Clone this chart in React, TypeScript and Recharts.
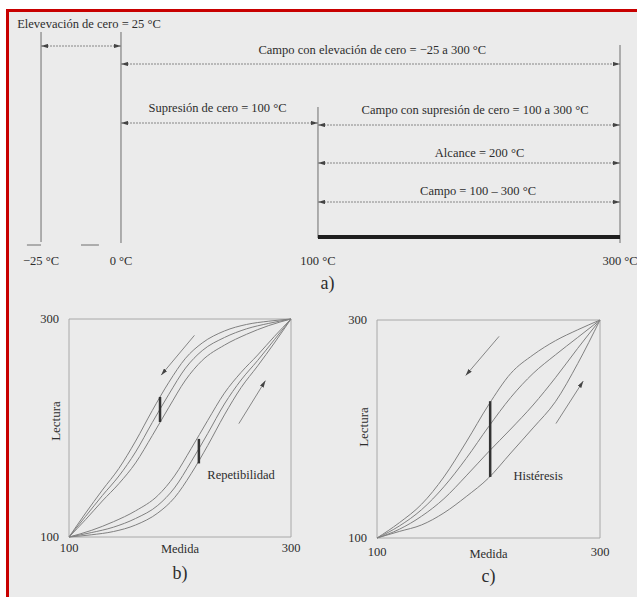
import React from 'react';
import { ComposedChart, Line, XAxis, YAxis, Scatter, ReferenceArea, Label } from 'recharts';

const SERIF = '"Liberation Serif", "Times New Roman", serif';
const INK = '#2d2d2d';
const RULE = '#6e6e6e';
const DOTTED = '#858585';
const CURVE = '#808080';
const FRAME = '#a8a8a8';

// ---------- a) escalas de temperatura ----------
const tempTicks = [-25, 0, 100, 300];
const spanFrom = [-25, 0, 0, 100, 100, 100];
const spanTo = [0, 300, 100, 300, 300, 300];
const spanText = [
  'Elevevación de cero = 25 °C',
  'Campo con elevación de cero = −25 a 300 °C',
  'Supresión de cero = 100 °C',
  'Campo con supresión de cero = 100 a 300 °C',
  'Alcance = 200 °C',
  'Campo = 100 – 300 °C',
];
const campoBar = [100, 300];
const dashFrom = [-29.4, -12.5];
const dashTo = [-25, -6.9];

// layout of the drawing: rows counted downwards, text anchors in °C
const limitTop = [22, 22, 97, 35];
const limitBottom = [232, 233, 228, 233];
const spanRow = [36, 54, 113, 115, 153, 192];
const textRow = [14, 40, 98, 100, 143, 181];
const textAt = [-10, 136, 49, 204, 207, 206];
const barRow = 227;
const dashRow = 235;

// the scale in a) is not drawn to proportion, each stretch has its own width
const tempStops = [-35, -25, 0, 100, 300];
const tempStopFrac = [0, 0.0524, 0.1833, 0.5057, 1];

function schematicScale(stops: number[], fracs: number[], d?: number[], r?: number[]) {
  let dom = d ? d.slice() : [stops[0], stops[stops.length - 1]];
  let rng = r ? r.slice() : [0, 1];
  const scale: any = (v: number) => {
    let i = 1;
    while (i < stops.length - 1 && v > stops[i]) i++;
    const t = (v - stops[i - 1]) / (stops[i] - stops[i - 1]);
    const f = fracs[i - 1] + t * (fracs[i] - fracs[i - 1]);
    return rng[0] + f * (rng[1] - rng[0]);
  };
  scale.domain = (x?: number[]) => {
    if (!x) return dom.slice();
    dom = x.slice();
    return scale;
  };
  scale.range = (x?: number[]) => {
    if (!x) return rng.slice();
    rng = x.slice();
    return scale;
  };
  scale.copy = () => schematicScale(stops, fracs, dom, rng);
  scale.ticks = () => stops.slice(1);
  scale.tickFormat = () => (v: number) => String(v);
  scale.nice = () => scale;
  scale.clamp = () => scale;
  return scale;
}
const tempScale = schematicScale(tempStops, tempStopFrac);

// ---------- b) repetibilidad ----------
const medidaBajada = [100, 115, 130, 145, 160, 175, 190, 205, 220, 240, 260, 280, 300];
const bajada1 = [100, 122, 143, 163, 188, 216, 242, 264, 278, 289, 295, 298, 300];
const bajada2 = [100, 119, 138, 156, 178, 205, 231, 255, 271, 283, 291, 296, 300];
const bajada3 = [100, 116, 133, 149, 168, 193, 219, 244, 262, 276, 286, 294, 300];
const medidaSubida = [100, 120, 140, 160, 180, 195, 210, 225, 240, 255, 270, 285, 300];
const subida1 = [100, 106, 114, 124, 138, 156, 181, 207, 232, 251, 267, 284, 300];
const subida2 = [100, 104, 109, 117, 129, 145, 169, 195, 222, 244, 262, 281, 300];
const subida3 = [100, 102, 105, 111, 122, 136, 158, 184, 212, 237, 257, 278, 300];
const repMarks = [
  { x: 182, lo: 205.5, hi: 228.5 },
  { x: 217, lo: 167.5, hi: 190 },
];
const repArrows = [
  { x1: 213, y1: 285, x2: 183, y2: 248.5 },
  { x1: 253, y1: 204, x2: 277, y2: 243.5 },
];

// ---------- c) histéresis ----------
const medidaC = [100, 120, 140, 160, 180, 200, 220, 240, 260, 280, 300];
const histA = [100, 114, 131, 156, 188, 222, 251, 268, 281, 291, 300];
const histB = [100, 111, 126, 147, 173, 202, 229, 251, 268, 284, 300];
const histC = [100, 108, 120, 136, 157, 179, 200, 222, 247, 274, 300];
const histD = [100, 106, 112, 123, 138, 155, 178, 201, 225, 260, 300];
const histMark = { x: 201.5, lo: 156, hi: 225.5 };
const histArrows = [
  { x1: 209.5, y1: 285, x2: 179.5, y2: 249 },
  { x1: 260.5, y1: 205, x2: 285, y2: 244 },
];

const pts = (xs: number[], ys: number[]) => xs.map((x, i) => ({ x, y: ys[i] }));
const fmtTemp = (v: number) => `${v < 0 ? '−' + Math.abs(v) : v} °C`;

const TextMark = (props: any) => (
  <text
    x={props.cx}
    y={props.cy}
    textAnchor="middle"
    dominantBaseline="central"
    fontFamily={SERIF}
    fontSize={12.5}
    fill={INK}
  >
    {props.payload.label}
  </text>
);

function EdgeTick(props: any) {
  const { x, y, payload, index, firstDx = 0 } = props;
  return (
    <text
      x={x + (index === 0 ? firstDx : 0)}
      y={y}
      dy="0.71em"
      textAnchor="middle"
      fontFamily={SERIF}
      fontSize={12.5}
      fill={INK}
    >
      {payload.value}
    </text>
  );
}

const arrowDefs = (id: string) => (
  <defs>
    <marker
      id={id}
      viewBox="0 0 10 6"
      refX="10"
      refY="3"
      markerWidth="7"
      markerHeight="4.2"
      markerUnits="userSpaceOnUse"
      orient="auto-start-reverse"
    >
      <path d="M0,0 L10,3 L0,6 z" fill="#444" />
    </marker>
  </defs>
);

function ChartA() {
  const labels = spanText.map((label, i) => ({ t: textAt[i], y: textRow[i], label }));
  return (
    <ComposedChart width={637} height={295} margin={{ top: 10, right: 17, left: 9, bottom: 5 }}>
      {arrowDefs('arrowA')}
      <XAxis
        type="number"
        dataKey="t"
        scale={tempScale}
        domain={[-35, 300]}
        ticks={tempTicks}
        interval={0}
        tickFormatter={fmtTemp}
        axisLine={false}
        tickLine={false}
        tickSize={6}
        tickMargin={0}
        height={40}
        tick={{ fontSize: 12.5, fill: INK, fontFamily: SERIF }}
      >
        <Label value="a)" position="insideBottom" offset={1} dx={13} fontSize={18} fill={INK} fontFamily={SERIF} />
      </XAxis>
      <YAxis type="number" dataKey="y" domain={[0, 240]} reversed hide />
      {tempTicks.map((t, i) => (
        <Line
          key={'lim' + t}
          data={[
            { t, y: limitTop[i] },
            { t, y: limitBottom[i] },
          ]}
          dataKey="y"
          stroke={RULE}
          strokeWidth={1}
          dot={false}
          activeDot={false}
          isAnimationActive={false}
        />
      ))}
      {spanFrom.map((from, i) => (
        <Line
          key={'span' + i}
          data={[
            { t: from, y: spanRow[i] },
            { t: spanTo[i], y: spanRow[i] },
          ]}
          dataKey="y"
          stroke={DOTTED}
          strokeWidth={1}
          strokeDasharray="2 1"
          markerStart="url(#arrowA)"
          markerEnd="url(#arrowA)"
          dot={false}
          activeDot={false}
          isAnimationActive={false}
        />
      ))}
      <Line
        data={[
          { t: campoBar[0], y: barRow },
          { t: campoBar[1], y: barRow },
        ]}
        dataKey="y"
        stroke="#1e1e1e"
        strokeWidth={4}
        dot={false}
        activeDot={false}
        isAnimationActive={false}
      />
      {dashFrom.map((from, i) => (
        <Line
          key={'dash' + i}
          data={[
            { t: from, y: dashRow },
            { t: dashTo[i], y: dashRow },
          ]}
          dataKey="y"
          stroke={RULE}
          strokeWidth={1}
          dot={false}
          activeDot={false}
          isAnimationActive={false}
        />
      ))}
      <Scatter data={labels} shape={TextMark} isAnimationActive={false} />
    </ComposedChart>
  );
}

type Mark = { x: number; lo: number; hi: number };
type Arrow = { x1: number; y1: number; x2: number; y2: number };

function LoopChart(props: {
  id: string;
  curves: { x: number; y: number }[][];
  marks: Mark[];
  arrows: Arrow[];
  note: { x: number; y: number; label: string };
  panel: string;
  margin: { top: number; right: number; left: number; bottom: number };
  tickSize: number;
  firstDx: number;
  medidaOffset: number;
  panelOffset: number;
  lecturaDy: number;
}) {
  const { id } = props;
  return (
    <ComposedChart width={320} height={307} margin={props.margin}>
      {arrowDefs(id)}
      <XAxis
        type="number"
        dataKey="x"
        domain={[100, 300]}
        ticks={[100, 300]}
        interval={0}
        axisLine={false}
        tickLine={false}
        tickSize={props.tickSize}
        tickMargin={0}
        height={45}
        tick={<EdgeTick firstDx={props.firstDx} />}
      >
        <Label value="Medida" position="insideTop" offset={props.medidaOffset} fontSize={12.5} fill={INK} fontFamily={SERIF} />
        <Label value={props.panel} position="insideBottom" offset={props.panelOffset} fontSize={18} fill={INK} fontFamily={SERIF} />
      </XAxis>
      <YAxis
        type="number"
        dataKey="y"
        domain={[100, 300]}
        ticks={[100, 300]}
        interval={0}
        axisLine={false}
        tickLine={false}
        tickMargin={4}
        width={28}
        tick={{ fontSize: 12.5, fill: INK, fontFamily: SERIF }}
      >
        <Label value="Lectura" position="center" angle={-90} dy={props.lecturaDy} fontSize={13} fill={INK} fontFamily={SERIF} />
      </YAxis>
      <ReferenceArea x1={100} x2={300} y1={100} y2={300} fill="none" stroke={FRAME} strokeWidth={1} ifOverflow="visible" />
      {props.curves.map((c, i) => (
        <Line
          key={id + 'c' + i}
          data={c}
          dataKey="y"
          type="monotone"
          stroke={CURVE}
          strokeWidth={1}
          dot={false}
          activeDot={false}
          isAnimationActive={false}
        />
      ))}
      {props.arrows.map((a, i) => (
        <Line
          key={id + 'a' + i}
          data={[
            { x: a.x1, y: a.y1 },
            { x: a.x2, y: a.y2 },
          ]}
          dataKey="y"
          stroke={DOTTED}
          strokeWidth={1}
          markerEnd={`url(#${id})`}
          dot={false}
          activeDot={false}
          isAnimationActive={false}
        />
      ))}
      {props.marks.map((m, i) => (
        <Line
          key={id + 'm' + i}
          data={[
            { x: m.x, y: m.lo },
            { x: m.x, y: m.hi },
          ]}
          dataKey="y"
          stroke="#333"
          strokeWidth={2.5}
          dot={false}
          activeDot={false}
          isAnimationActive={false}
        />
      ))}
      <Scatter data={[props.note]} shape={TextMark} isAnimationActive={false} />
    </ComposedChart>
  );
}

export default function App() {
  return (
    <div
      style={{
        position: 'fixed',
        left: 0,
        top: 0,
        width: 637,
        height: 597,
        background: '#fff',
        overflow: 'hidden',
      }}
    >
      <div
        style={{
          position: 'absolute',
          left: 6,
          top: 9,
          right: 0,
          bottom: 0,
          borderLeft: '3px solid #c80000',
          borderTop: '3px solid #c80000',
          background: '#ebebeb',
        }}
      />
      <div style={{ position: 'absolute', left: 0, top: 0 }}>
        <ChartA />
      </div>
      <div style={{ position: 'absolute', left: 0, top: 290 }}>
        <LoopChart
          id="arrowB"
          curves={[
            pts(medidaBajada, bajada1),
            pts(medidaBajada, bajada2),
            pts(medidaBajada, bajada3),
            pts(medidaSubida, subida1),
            pts(medidaSubida, subida2),
            pts(medidaSubida, subida3),
          ]}
          marks={repMarks}
          arrows={repArrows}
          note={{ x: 255, y: 157, label: 'Repetibilidad' }}
          panel="b)"
          margin={{ top: 29, right: 29, left: 41, bottom: 15 }}
          tickSize={6}
          firstDx={0}
          medidaOffset={7}
          panelOffset={3}
          lecturaDy={-7}
        />
      </div>
      <div style={{ position: 'absolute', left: 310, top: 290 }}>
        <LoopChart
          id="arrowC"
          curves={[pts(medidaC, histA), pts(medidaC, histB), pts(medidaC, histC), pts(medidaC, histD)]}
          marks={[histMark]}
          arrows={histArrows}
          note={{ x: 244.5, y: 156.5, label: 'Histéresis' }}
          panel="c)"
          margin={{ top: 30, right: 30, left: 39, bottom: 14 }}
          tickSize={9}
          firstDx={0}
          medidaOffset={11}
          panelOffset={1}
          lecturaDy={-2}
        />
      </div>
    </div>
  );
}
